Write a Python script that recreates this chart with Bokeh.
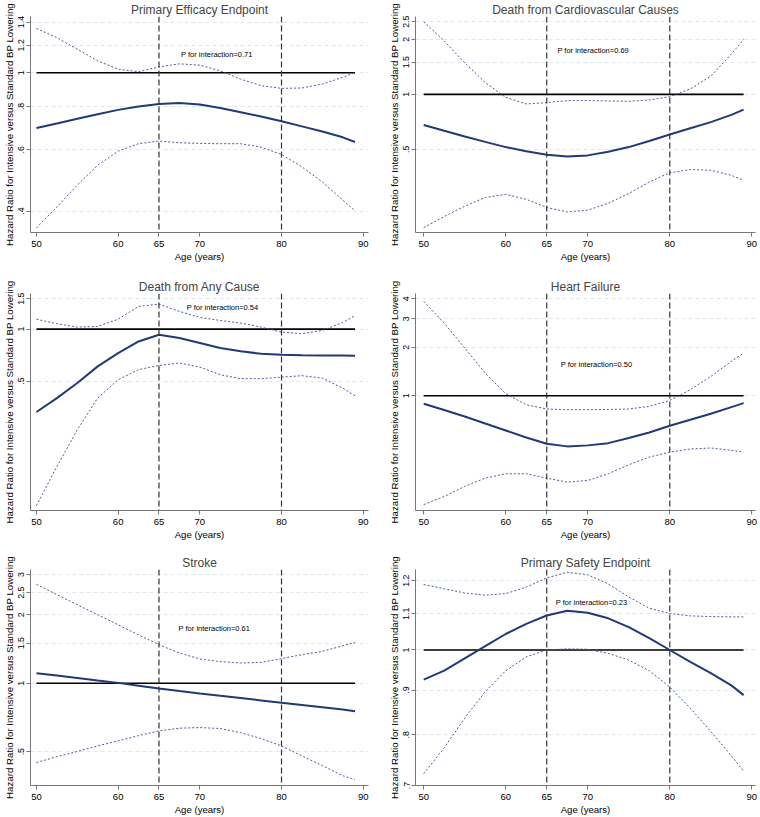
from bokeh.plotting import figure
from bokeh.layouts import gridplot
from bokeh.models import Range1d, FixedTicker, CustomJSTickFormatter, Span
from bokeh.core.properties import value
from bokeh.embed import file_html
from bokeh.resources import INLINE

# ---------------- data ----------------
ages = [50, 52.5, 55, 57.5, 60, 62.5, 65, 67.5, 70, 72.5, 75, 77.5, 80, 82.5, 85, 87.5, 89]

titles = ["Primary Efficacy Endpoint", "Death from Cardiovascular Causes",
          "Death from Any Cause", "Heart Failure",
          "Stroke", "Primary Safety Endpoint"]
p_texts = ["P for interaction=0.71", "P for interaction=0.69", "P for interaction=0.54",
           "P for interaction=0.50", "P for interaction=0.61", "P for interaction=0.23"]

efficacy_hr = [0.694, 0.715, 0.737, 0.760, 0.782, 0.800, 0.813, 0.818, 0.810, 0.792, 0.770, 0.748, 0.725, 0.701, 0.678, 0.652, 0.632]
efficacy_hi = [1.342, 1.262, 1.169, 1.082, 1.024, 1.007, 1.040, 1.061, 1.052, 1.013, 0.959, 0.918, 0.902, 0.904, 0.928, 0.970, 1.002]
efficacy_lo = [0.358, 0.411, 0.475, 0.542, 0.595, 0.625, 0.636, 0.629, 0.626, 0.625, 0.625, 0.611, 0.582, 0.536, 0.485, 0.430, 0.401]

cvdeath_hr = [0.680, 0.632, 0.588, 0.549, 0.514, 0.488, 0.467, 0.457, 0.463, 0.485, 0.514, 0.555, 0.603, 0.652, 0.704, 0.772, 0.825]
cvdeath_hi = [2.50, 1.96, 1.49, 1.16, 0.963, 0.886, 0.901, 0.924, 0.924, 0.920, 0.916, 0.931, 0.971, 1.07, 1.26, 1.66, 2.00]
cvdeath_lo = [0.186, 0.214, 0.244, 0.272, 0.283, 0.266, 0.240, 0.227, 0.232, 0.253, 0.286, 0.331, 0.372, 0.387, 0.384, 0.360, 0.338]

anydeath_hr = [0.331, 0.398, 0.487, 0.608, 0.726, 0.848, 0.927, 0.887, 0.830, 0.776, 0.743, 0.720, 0.710, 0.706, 0.704, 0.702, 0.701]
anydeath_hi = [1.14, 1.074, 1.027, 1.036, 1.14, 1.353, 1.396, 1.266, 1.168, 1.122, 1.083, 1.027, 0.961, 0.940, 0.982, 1.093, 1.195]
anydeath_lo = [0.095, 0.160, 0.261, 0.399, 0.509, 0.582, 0.616, 0.636, 0.602, 0.544, 0.516, 0.516, 0.527, 0.537, 0.520, 0.455, 0.411]

hf_hr = [0.892, 0.815, 0.744, 0.672, 0.609, 0.551, 0.504, 0.485, 0.492, 0.508, 0.546, 0.592, 0.651, 0.710, 0.773, 0.850, 0.900]
hf_hi = [3.85, 2.82, 1.98, 1.38, 1.03, 0.879, 0.827, 0.819, 0.819, 0.822, 0.827, 0.859, 0.935, 1.09, 1.318, 1.633, 1.84]
hf_lo = [0.211, 0.237, 0.274, 0.308, 0.328, 0.328, 0.308, 0.291, 0.298, 0.328, 0.373, 0.416, 0.447, 0.467, 0.474, 0.458, 0.447]

stroke_hr = [1.106, 1.080, 1.054, 1.028, 1.003, 0.975, 0.948, 0.924, 0.901, 0.880, 0.860, 0.840, 0.820, 0.802, 0.784, 0.766, 0.752]
stroke_hi = [2.72, 2.45, 2.21, 2.00, 1.805, 1.63, 1.476, 1.357, 1.278, 1.244, 1.227, 1.235, 1.282, 1.335, 1.38, 1.46, 1.51]
stroke_lo = [0.448, 0.475, 0.501, 0.530, 0.558, 0.588, 0.617, 0.634, 0.638, 0.632, 0.606, 0.571, 0.530, 0.479, 0.434, 0.392, 0.377]

safety_hr = [0.925, 0.947, 0.978, 1.010, 1.043, 1.071, 1.095, 1.109, 1.103, 1.087, 1.062, 1.032, 1.000, 0.969, 0.941, 0.911, 0.888]
safety_hi = [1.188, 1.175, 1.162, 1.155, 1.160, 1.180, 1.209, 1.227, 1.219, 1.190, 1.150, 1.116, 1.101, 1.094, 1.092, 1.091, 1.091]
safety_lo = [0.722, 0.773, 0.836, 0.896, 0.947, 0.982, 1.000, 1.003, 1.002, 0.991, 0.974, 0.947, 0.907, 0.858, 0.807, 0.757, 0.727]

x_ticks = [50, 60, 65, 70, 80, 90]
age_cutpoints = [65, 80]
reference_hr = 1.0

y_ticks = [[0.4, 0.6, 0.8, 1, 1.2, 1.4],
           [0.5, 1, 1.5, 2, 2.5],
           [0.5, 1, 1.5],
           [1, 2, 3, 4],
           [0.5, 1, 1.5, 2, 2.5, 3],
           [0.7, 0.8, 0.9, 1, 1.1, 1.2]]

series = [(efficacy_hr, efficacy_lo, efficacy_hi),
          (cvdeath_hr, cvdeath_lo, cvdeath_hi),
          (anydeath_hr, anydeath_lo, anydeath_hi),
          (hf_hr, hf_lo, hf_hi),
          (stroke_hr, stroke_lo, stroke_hi),
          (safety_hr, safety_lo, safety_hi)]

# ---------------- layout / style ----------------
y_ranges = [(0.347, 1.452), (0.175, 2.67), (0.089, 1.607), (0.194, 4.31), (0.355, 3.16), (0.700, 1.236)]
label_pos = [(67.7, 1.13), (66.3, 1.73), (68.4, 1.34), (66.7, 1.557), (67.4, 1.733), (66.1, 1.132)]
x_ranges = [(49.27, 90.65), (49.0, 90.45)]

FONT = "Liberation Sans"
W = 380
row_h = [268, 274, 275]
row_top = [15, 25, 27]
row_bottom = [36, 31, 30]
col_left = [29, 35]
col_right = [12, 5]

fmt = CustomJSTickFormatter(code="""
const s = String(Math.round(tick*100)/100);
return s.startsWith("0.") ? s.slice(1) : s;
""")

figs = []
for i in range(6):
    r, c = divmod(i, 2)
    p = figure(width=W, height=row_h[r], y_axis_type="log",
               x_range=Range1d(*x_ranges[c]), y_range=Range1d(*y_ranges[i]),
               output_backend="svg", toolbar_location=None,
               min_border_left=col_left[c], min_border_right=col_right[c],
               min_border_top=row_top[r], min_border_bottom=row_bottom[r])
    p.outline_line_color = None
    p.background_fill_color = "white"
    p.border_fill_color = "white"

    p.title.text = titles[i]
    p.title.align = "center"
    p.title.text_font = FONT
    p.title.text_font_style = "normal"
    p.title.text_font_size = "12px"
    p.title.standoff = 0
    p.title.offset = 0

    # axes
    p.xaxis.ticker = FixedTicker(ticks=x_ticks)
    p.yaxis.ticker = FixedTicker(ticks=y_ticks[i])
    p.yaxis.formatter = fmt
    p.xaxis.axis_label = "Age (years)"
    p.yaxis.axis_label = "Hazard Ratio for Intensive versus Standard BP Lowering"
    for ax in (p.xaxis, p.yaxis):
        ax.axis_line_color = "#777777"
        ax.axis_line_width = 1
        ax.major_tick_line_color = "#777777"
        ax.major_tick_in = 0
        ax.major_tick_out = 4
        ax.minor_tick_line_color = None
        ax.major_label_text_font = FONT
        ax.major_label_text_color = "black"
        ax.axis_label_text_font = FONT
        ax.axis_label_text_font_style = "normal"
        ax.axis_label_text_color = "black"
        ax.axis_label_standoff = 1
    p.xaxis.major_label_text_font_size = "9.5px"
    p.yaxis.major_label_text_font_size = "8.8px"
    p.xaxis.major_label_standoff = 4
    p.yaxis.major_label_standoff = 2
    p.xaxis.axis_label_text_font_size = "9.6px"
    p.yaxis.axis_label_text_font_size = "9.7px"
    p.yaxis.major_label_orientation = "vertical"

    # grid
    p.xgrid.visible = False
    p.ygrid.ticker = FixedTicker(ticks=y_ticks[i])
    p.ygrid.grid_line_color = "#dfe8ec"
    p.ygrid.grid_line_dash = "4 3"
    p.ygrid.grid_line_width = 1

    # cut-point verticals
    for a in age_cutpoints:
        p.add_layout(Span(location=a, dimension="height", line_color="#333333",
                          line_dash="6 3", line_width=1.2))

    hr, lo, hi = series[i]
    p.line([ages[0], ages[-1]], [reference_hr, reference_hr], line_color="black", line_width=1.6)
    p.line(ages, hi, line_color="#4a5b9c", line_width=1, line_dash="2 2")
    p.line(ages, lo, line_color="#4a5b9c", line_width=1, line_dash="2 2")
    p.line(ages, hr, line_color="#1f3a78", line_width=2)

    lx, ly = label_pos[i]
    p.text(x=[lx], y=[ly], text=[p_texts[i]], text_font=value(FONT),
           text_font_size="7.5px", text_align="left", text_baseline="middle",
           text_color="black")
    figs.append(p)

grid = gridplot([[figs[0], figs[1]], [figs[2], figs[3]], [figs[4], figs[5]]],
                toolbar_location=None)

open("out.html", "w").write(file_html(grid, INLINE))
